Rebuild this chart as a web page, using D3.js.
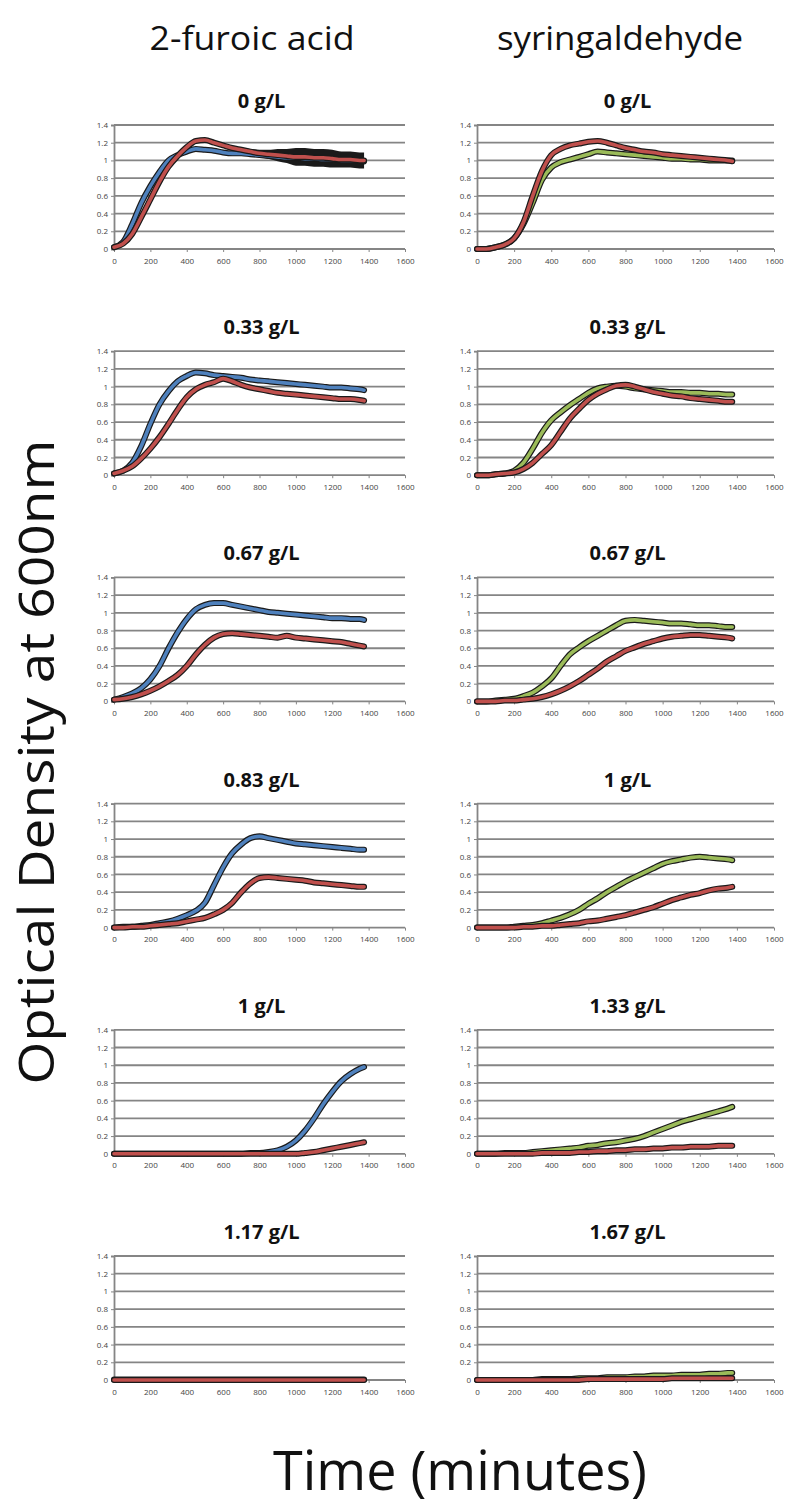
<!DOCTYPE html>
<html>
<head>
<meta charset="utf-8">
<script src="https://cdn.jsdelivr.net/npm/d3@7"></script>
<style>
body { margin: 0; background: #fff; }
</style>
</head>
<body>
<div id="chart"></div>
<script>
// sampling times (minutes)
const times = [0, 50, 100, 150, 200, 250, 300, 350, 400, 450, 500, 550, 600, 650, 700,
    750, 800, 850, 900, 950, 1000, 1050, 1100, 1150, 1200, 1250, 1300, 1350, 1375];

const yTicks = [0, 0.2, 0.4, 0.6, 0.8, 1, 1.2, 1.4];
const xTicks = [0, 200, 400, 600, 800, 1000, 1200, 1400, 1600];

const columnTitles = ["2-furoic acid", "syringaldehyde"];
const furoicDoses = ["0 g/L", "0.33 g/L", "0.67 g/L", "0.83 g/L", "1 g/L", "1.17 g/L"];
const syringDoses = ["0 g/L", "0.33 g/L", "0.67 g/L", "1 g/L", "1.33 g/L", "1.67 g/L"];

// 2-furoic acid, blue strain
const furoicBlue = [
    [0.02, 0.08, 0.28, 0.52, 0.71, 0.87, 1.0, 1.06, 1.1, 1.13, 1.12, 1.11, 1.09, 1.08, 1.08, 1.07, 1.06, 1.05, 1.04, 1.03, 1.03, 1.02, 1.02, 1.01, 1.01, 1.0, 1.0, 1.0, 0.99],
    [0.02, 0.05, 0.14, 0.33, 0.58, 0.8, 0.95, 1.06, 1.12, 1.16, 1.15, 1.13, 1.12, 1.11, 1.1, 1.08, 1.07, 1.06, 1.05, 1.04, 1.03, 1.02, 1.01, 1.0, 0.99, 0.99, 0.98, 0.97, 0.96],
    [0.02, 0.05, 0.09, 0.15, 0.25, 0.4, 0.6, 0.78, 0.93, 1.04, 1.09, 1.11, 1.11, 1.09, 1.07, 1.05, 1.03, 1.01, 1.0, 0.99, 0.98, 0.97, 0.96, 0.95, 0.94, 0.94, 0.93, 0.93, 0.92],
    [0.0, 0.01, 0.01, 0.02, 0.03, 0.05, 0.07, 0.1, 0.14, 0.19, 0.28, 0.48, 0.68, 0.84, 0.94, 1.01, 1.03, 1.01, 0.99, 0.97, 0.95, 0.94, 0.93, 0.92, 0.91, 0.9, 0.89, 0.88, 0.88],
    [0.0, 0.0, 0.0, 0.0, 0.0, 0.0, 0.0, 0.0, 0.0, 0.0, 0.0, 0.0, 0.0, 0.0, 0.0, 0.01, 0.01, 0.02, 0.04, 0.08, 0.15, 0.26, 0.4, 0.56, 0.7, 0.82, 0.9, 0.96, 0.98],
    [0.005, 0.005, 0.005, 0.005, 0.005, 0.005, 0.005, 0.005, 0.005, 0.005, 0.005, 0.005, 0.005, 0.005, 0.005, 0.005, 0.005, 0.005, 0.005, 0.005, 0.005, 0.005, 0.005, 0.005, 0.005, 0.005, 0.005, 0.005, 0.005]
];

// 2-furoic acid, red strain
const furoicRed = [
    [0.02, 0.06, 0.17, 0.36, 0.56, 0.76, 0.93, 1.05, 1.15, 1.22, 1.23, 1.2, 1.17, 1.14, 1.12, 1.1, 1.08, 1.07, 1.06, 1.05, 1.04, 1.04, 1.03, 1.03, 1.02, 1.01, 1.01, 1.0, 1.0],
    [0.02, 0.05, 0.1, 0.19, 0.3, 0.43, 0.58, 0.74, 0.88, 0.97, 1.02, 1.05, 1.09, 1.06, 1.02, 0.99, 0.97, 0.95, 0.93, 0.92, 0.91, 0.9, 0.89, 0.88, 0.87, 0.86, 0.86, 0.85, 0.84],
    [0.02, 0.03, 0.05, 0.08, 0.12, 0.17, 0.23, 0.3, 0.4, 0.53, 0.64, 0.72, 0.76, 0.77, 0.76, 0.75, 0.74, 0.73, 0.72, 0.74, 0.72, 0.71, 0.7, 0.69, 0.68, 0.67, 0.65, 0.63, 0.62],
    [0.0, 0.0, 0.01, 0.01, 0.02, 0.03, 0.04, 0.05, 0.07, 0.09, 0.11, 0.15, 0.2, 0.28, 0.4, 0.5, 0.56, 0.57, 0.56, 0.55, 0.54, 0.53, 0.51, 0.5, 0.49, 0.48, 0.47, 0.46, 0.46],
    [0.0, 0.0, 0.0, 0.0, 0.0, 0.0, 0.0, 0.0, 0.0, 0.0, 0.0, 0.0, 0.0, 0.0, 0.0, 0.0, 0.0, 0.0, 0.0, 0.0, 0.0, 0.01, 0.02, 0.04, 0.06, 0.08, 0.1, 0.12, 0.13],
    [0.0, 0.0, 0.0, 0.0, 0.0, 0.0, 0.0, 0.0, 0.0, 0.0, 0.0, 0.0, 0.0, 0.0, 0.0, 0.0, 0.0, 0.0, 0.0, 0.0, 0.0, 0.0, 0.0, 0.0, 0.0, 0.0, 0.0, 0.0, 0.0]
];

// error (+/-) of the red strain without inhibitor
const furoicRedErr0 = [0.01, 0.01, 0.02, 0.02, 0.02, 0.02, 0.02, 0.02, 0.02, 0.02, 0.02, 0.02, 0.02, 0.02, 0.02, 0.03, 0.04, 0.05, 0.07, 0.08, 0.1, 0.1, 0.1, 0.1, 0.1, 0.09, 0.09, 0.09, 0.09];

// syringaldehyde, green strain
const syringGreen = [
    [0.0, 0.0, 0.02, 0.05, 0.12, 0.28, 0.52, 0.78, 0.92, 0.98, 1.01, 1.04, 1.07, 1.1, 1.09, 1.08, 1.07, 1.06, 1.05, 1.04, 1.03, 1.02, 1.02, 1.01, 1.01, 1.0, 1.0, 1.0, 1.0],
    [0.0, 0.0, 0.01, 0.02, 0.05, 0.14, 0.3, 0.48, 0.62, 0.71, 0.79, 0.86, 0.93, 0.98, 1.0, 1.01, 1.0, 0.98, 0.97, 0.96, 0.95, 0.94, 0.94, 0.93, 0.93, 0.92, 0.92, 0.91, 0.91],
    [0.0, 0.0, 0.01, 0.02, 0.03, 0.06, 0.1, 0.17, 0.26, 0.4, 0.53, 0.61, 0.68, 0.74, 0.8, 0.86, 0.91, 0.92, 0.91, 0.9, 0.89, 0.88, 0.88, 0.87, 0.86, 0.86, 0.85, 0.84, 0.84],
    [0.0, 0.0, 0.0, 0.0, 0.01, 0.02, 0.03, 0.05, 0.08, 0.11, 0.15, 0.2, 0.27, 0.33, 0.4, 0.46, 0.52, 0.57, 0.62, 0.67, 0.72, 0.75, 0.77, 0.79, 0.8, 0.79, 0.78, 0.77, 0.76],
    [0.0, 0.0, 0.0, 0.01, 0.01, 0.01, 0.02, 0.03, 0.04, 0.05, 0.06, 0.07, 0.09, 0.1, 0.12, 0.13, 0.15, 0.17, 0.2, 0.24, 0.28, 0.32, 0.36, 0.39, 0.42, 0.45, 0.48, 0.51, 0.53],
    [0.0, 0.0, 0.0, 0.0, 0.0, 0.0, 0.0, 0.01, 0.01, 0.01, 0.01, 0.02, 0.02, 0.02, 0.03, 0.03, 0.03, 0.04, 0.04, 0.05, 0.05, 0.05, 0.06, 0.06, 0.06, 0.07, 0.07, 0.08, 0.08]
];

// syringaldehyde, red strain
const syringRed = [
    [0.0, 0.0, 0.02, 0.05, 0.12, 0.3, 0.6, 0.88, 1.06, 1.13, 1.17, 1.19, 1.21, 1.22, 1.2, 1.17, 1.14, 1.12, 1.1, 1.09, 1.07, 1.06, 1.05, 1.04, 1.03, 1.02, 1.01, 1.0, 0.99],
    [0.0, 0.0, 0.01, 0.02, 0.03, 0.07, 0.14, 0.24, 0.34, 0.49, 0.64, 0.75, 0.85, 0.92, 0.97, 1.01, 1.02, 1.0, 0.97, 0.94, 0.92, 0.9, 0.89, 0.87, 0.86, 0.85, 0.84, 0.83, 0.83],
    [0.0, 0.0, 0.0, 0.01, 0.01, 0.02, 0.03, 0.05, 0.08, 0.12, 0.17, 0.23, 0.3, 0.37, 0.45, 0.51, 0.57, 0.61, 0.65, 0.68, 0.71, 0.73, 0.74, 0.75, 0.75, 0.74, 0.73, 0.72, 0.71],
    [0.0, 0.0, 0.0, 0.0, 0.0, 0.01, 0.01, 0.02, 0.02, 0.03, 0.04, 0.05, 0.07, 0.08, 0.1, 0.12, 0.14, 0.17, 0.2, 0.23, 0.27, 0.31, 0.34, 0.37, 0.39, 0.42, 0.44, 0.45, 0.46],
    [0.0, 0.0, 0.0, 0.0, 0.0, 0.0, 0.0, 0.01, 0.01, 0.01, 0.01, 0.02, 0.02, 0.03, 0.03, 0.04, 0.04, 0.05, 0.05, 0.06, 0.06, 0.07, 0.07, 0.08, 0.08, 0.08, 0.09, 0.09, 0.09],
    [0.0, 0.0, 0.0, 0.0, 0.0, 0.0, 0.0, 0.0, 0.0, 0.0, 0.0, 0.0, 0.01, 0.01, 0.01, 0.01, 0.01, 0.01, 0.01, 0.01, 0.01, 0.02, 0.02, 0.02, 0.02, 0.02, 0.02, 0.02, 0.02]
];

const colors = { blue: "#4f81bd", red: "#c0504d", green: "#9bbb59" };

const width = 786, height = 1507;
const svg = d3.select("#chart")
    .append("svg")
    .attr("width", width)
    .attr("height", height)
    .style("font-family", "'Open Sans', sans-serif");

// column headers
svg.selectAll(".colTitle")
    .data(columnTitles)
    .enter()
    .append("text")
    .attr("class", "colTitle")
    .attr("x", (d, i) => i == 0 ? 252 : 620)
    .attr("y", 50)
    .attr("text-anchor", "middle")
    .attr("font-size", 33)
    .attr("textLength", (d, i) => i == 0 ? 205 : 246)
    .attr("lengthAdjust", "spacingAndGlyphs")
    .attr("fill", "#111")
    .text(d => d);

const columns = [
    { x0: 114, x1: 405, doses: furoicDoses, a: furoicBlue, b: furoicRed, colorA: colors.blue },
    { x0: 477, x1: 774, doses: syringDoses, a: syringGreen, b: syringRed, colorA: colors.green }
];

const line = (x, y) => d3.line()
    .x((d, i) => x(times[i]))
    .y(d => y(d))
    .curve(d3.curveMonotoneX);

columns.forEach(function(col, c) {
    const x = d3.scaleLinear().domain([0, 1600]).range([col.x0, col.x1]);

    col.doses.forEach(function(dose, r) {
        const base = 249 + r * 226.2;
        const y = d3.scaleLinear().domain([0, 1.4]).range([base, base - 124]);
        const g = svg.append("g");

        // title
        g.append("text")
            .attr("x", (col.x0 + col.x1) / 2 + 2)
            .attr("y", base - 141)
            .attr("text-anchor", "middle")
            .attr("font-size", 20)
            .attr("font-weight", "bold")
            .attr("fill", "#111")
            .text(dose);

        // grid
        g.append("g")
            .selectAll("line")
            .data(yTicks)
            .enter()
            .append("line")
            .attr("x1", col.x0)
            .attr("x2", col.x1)
            .attr("y1", d => y(d))
            .attr("y2", d => y(d))
            .attr("stroke", "#858585")
            .attr("stroke-width", 1.8);

        // y axis
        const yAxis = g.append("g")
            .attr("transform", "translate(" + col.x0 + ",0)")
            .call(d3.axisLeft(y).tickValues(yTicks).tickSize(3).tickFormat(d => String(d)));
        yAxis.select(".domain").attr("stroke", "#858585").attr("stroke-width", 1.8);
        yAxis.selectAll(".tick line").attr("stroke", "#858585");
        yAxis.selectAll("text").attr("font-size", 8).attr("fill", "#444").attr("font-family", "'Open Sans', sans-serif");

        // x axis
        const xAxis = g.append("g")
            .attr("transform", "translate(0," + base + ")")
            .call(d3.axisBottom(x).tickValues(xTicks).tickSize(3).tickPadding(6).tickFormat(d => String(d)));
        xAxis.select(".domain").remove();
        xAxis.selectAll(".tick line").attr("stroke", "#858585");
        xAxis.selectAll("text").attr("font-size", 8).attr("fill", "#444").attr("font-family", "'Open Sans', sans-serif");

        // error band
        if (c == 0 && r == 0) {
            g.append("path")
                .datum(col.b[r])
                .attr("d", d3.area()
                    .x((d, i) => x(times[i]))
                    .y0((d, i) => y(d - furoicRedErr0[i]))
                    .y1((d, i) => y(d + furoicRedErr0[i]))
                    .curve(d3.curveMonotoneX))
                .attr("fill", "#1a1a1a");
        }

        // series: dark casing (error bars) then coloured line
        [[col.a[r], col.colorA], [col.b[r], colors.red]].forEach(function(s) {
            g.append("path")
                .datum(s[0])
                .attr("d", line(x, y))
                .attr("fill", "none")
                .attr("stroke", "#1a1a1a")
                .attr("stroke-width", 6)
                .attr("stroke-linejoin", "round")
                .attr("stroke-linecap", "round");
            g.append("path")
                .datum(s[0])
                .attr("d", line(x, y))
                .attr("fill", "none")
                .attr("stroke", s[1])
                .attr("stroke-width", 3.6)
                .attr("stroke-linejoin", "round")
                .attr("stroke-linecap", "round");
        });
    });
});

// axis titles
svg.append("text")
    .attr("transform", "translate(54,762) rotate(-90)")
    .attr("text-anchor", "middle")
    .attr("font-size", 50)
    .attr("textLength", 645)
    .attr("lengthAdjust", "spacingAndGlyphs")
    .attr("fill", "#111")
    .text("Optical Density at 600nm");

svg.append("text")
    .attr("x", 460)
    .attr("y", 1490)
    .attr("text-anchor", "middle")
    .attr("font-size", 54)
    .attr("textLength", 374)
    .attr("lengthAdjust", "spacingAndGlyphs")
    .attr("fill", "#111")
    .text("Time (minutes)");
</script>
</body>
</html>
